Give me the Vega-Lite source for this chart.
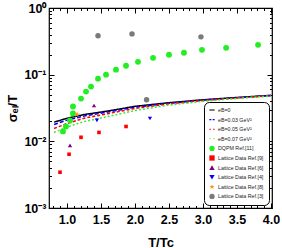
{
  "$schema": "https://vega.github.io/schema/vega-lite/v6.json",
  "width": 223,
  "height": 200,
  "autosize": "none",
  "padding": {"left": 49, "top": 8, "right": 10, "bottom": 40},
  "background": "white",
  "config": {
    "view": {"stroke": "black", "strokeWidth": 1.2},
    "font": "Liberation Sans",
    "axis": {"grid": false}
  },
  "datasets": {
    "lines": [
      {"series": "eB=0", "T": 0.81, "s": 0.0194},
      {"series": "eB=0", "T": 1.0, "s": 0.0222},
      {"series": "eB=0", "T": 1.25, "s": 0.0252},
      {"series": "eB=0", "T": 1.6, "s": 0.0285},
      {"series": "eB=0", "T": 2.0, "s": 0.0335},
      {"series": "eB=0", "T": 2.5, "s": 0.038},
      {"series": "eB=0", "T": 3.0, "s": 0.042},
      {"series": "eB=0", "T": 3.5, "s": 0.0455},
      {"series": "eB=0", "T": 4.0, "s": 0.049},
      {"series": "eB=0.03 GeV²", "T": 0.81, "s": 0.0179},
      {"series": "eB=0.03 GeV²", "T": 1.0, "s": 0.0208},
      {"series": "eB=0.03 GeV²", "T": 1.25, "s": 0.024},
      {"series": "eB=0.03 GeV²", "T": 1.6, "s": 0.0275},
      {"series": "eB=0.03 GeV²", "T": 2.0, "s": 0.0325},
      {"series": "eB=0.03 GeV²", "T": 2.5, "s": 0.0372},
      {"series": "eB=0.03 GeV²", "T": 3.0, "s": 0.0415},
      {"series": "eB=0.03 GeV²", "T": 3.5, "s": 0.045},
      {"series": "eB=0.03 GeV²", "T": 4.0, "s": 0.0486},
      {"series": "eB=0.05 GeV²", "T": 0.81, "s": 0.0156},
      {"series": "eB=0.05 GeV²", "T": 1.0, "s": 0.0185},
      {"series": "eB=0.05 GeV²", "T": 1.25, "s": 0.0222},
      {"series": "eB=0.05 GeV²", "T": 1.6, "s": 0.026},
      {"series": "eB=0.05 GeV²", "T": 2.0, "s": 0.0312},
      {"series": "eB=0.05 GeV²", "T": 2.5, "s": 0.0365},
      {"series": "eB=0.05 GeV²", "T": 3.0, "s": 0.041},
      {"series": "eB=0.05 GeV²", "T": 3.5, "s": 0.0447},
      {"series": "eB=0.05 GeV²", "T": 4.0, "s": 0.0483},
      {"series": "eB=0.07 GeV²", "T": 0.81, "s": 0.0136},
      {"series": "eB=0.07 GeV²", "T": 1.0, "s": 0.0163},
      {"series": "eB=0.07 GeV²", "T": 1.25, "s": 0.0198},
      {"series": "eB=0.07 GeV²", "T": 1.6, "s": 0.0235},
      {"series": "eB=0.07 GeV²", "T": 2.0, "s": 0.029},
      {"series": "eB=0.07 GeV²", "T": 2.5, "s": 0.035},
      {"series": "eB=0.07 GeV²", "T": 3.0, "s": 0.0398},
      {"series": "eB=0.07 GeV²", "T": 3.5, "s": 0.044},
      {"series": "eB=0.07 GeV²", "T": 4.0, "s": 0.048}
    ],
    "points": [
      {"series": "DQPM Ref.[11]", "T": 0.94, "s": 0.0141},
      {"series": "DQPM Ref.[11]", "T": 0.985, "s": 0.0167},
      {"series": "DQPM Ref.[11]", "T": 1.044, "s": 0.0206},
      {"series": "DQPM Ref.[11]", "T": 1.088, "s": 0.0262},
      {"series": "DQPM Ref.[11]", "T": 1.088, "s": 0.0333},
      {"series": "DQPM Ref.[11]", "T": 1.206, "s": 0.0438},
      {"series": "DQPM Ref.[11]", "T": 1.28, "s": 0.0557},
      {"series": "DQPM Ref.[11]", "T": 1.353, "s": 0.0662},
      {"series": "DQPM Ref.[11]", "T": 1.456, "s": 0.0871},
      {"series": "DQPM Ref.[11]", "T": 1.574, "s": 0.1},
      {"series": "DQPM Ref.[11]", "T": 1.72, "s": 0.119},
      {"series": "DQPM Ref.[11]", "T": 1.868, "s": 0.136},
      {"series": "DQPM Ref.[11]", "T": 2.044, "s": 0.156},
      {"series": "DQPM Ref.[11]", "T": 2.265, "s": 0.179},
      {"series": "DQPM Ref.[11]", "T": 2.5, "s": 0.199},
      {"series": "DQPM Ref.[11]", "T": 2.72, "s": 0.213},
      {"series": "DQPM Ref.[11]", "T": 2.985, "s": 0.236},
      {"series": "DQPM Ref.[11]", "T": 3.34, "s": 0.253},
      {"series": "DQPM Ref.[11]", "T": 3.81, "s": 0.28},
      {"series": "Lattice Data Ref.[9]", "T": 0.897, "s": 0.00344},
      {"series": "Lattice Data Ref.[9]", "T": 1.03, "s": 0.0064},
      {"series": "Lattice Data Ref.[9]", "T": 1.206, "s": 0.0115},
      {"series": "Lattice Data Ref.[9]", "T": 1.47, "s": 0.0136},
      {"series": "Lattice Data Ref.[9]", "T": 1.868, "s": 0.0167},
      {"series": "Lattice Data Ref.[6]", "T": 1.044, "s": 0.0087},
      {"series": "Lattice Data Ref.[6]", "T": 1.397, "s": 0.0345},
      {"series": "Lattice Data Ref.[4]", "T": 1.44, "s": 0.0206},
      {"series": "Lattice Data Ref.[4]", "T": 2.22, "s": 0.022},
      {"series": "Lattice Data Ref.[8]", "T": 1.147, "s": 0.0253},
      {"series": "Lattice Data Ref.[3]", "T": 1.456, "s": 0.382},
      {"series": "Lattice Data Ref.[3]", "T": 1.956, "s": 0.409},
      {"series": "Lattice Data Ref.[3]", "T": 2.97, "s": 0.369},
      {"series": "Lattice Data Ref.[3]", "T": 2.17, "s": 0.042}
    ]
  },
  "encoding": {
    "x": {
      "field": "T", "type": "quantitative", "axis": null,
      "scale": {"domain": [0.735, 4.015], "nice": false, "zero": false}
    },
    "y": {
      "field": "s", "type": "quantitative", "axis": null,
      "scale": {"type": "log", "domain": [0.001, 1], "nice": false}
    },
    "color": {
      "field": "series", "type": "nominal",
      "scale": {
        "domain": ["eB=0", "eB=0.03 GeV²", "eB=0.05 GeV²", "eB=0.07 GeV²", "DQPM Ref.[11]", "Lattice Data Ref.[9]", "Lattice Data Ref.[6]", "Lattice Data Ref.[4]", "Lattice Data Ref.[8]", "Lattice Data Ref.[3]"],
        "range": ["#000000", "#0000ff", "#ff0000", "#33ee33", "#22ee22", "#ff0000", "#800080", "#0000ff", "#ff8c1a", "#7a7a7a"]
      }
    }
  },
  "layer": [
    {
      "data": {"name": "lines"},
      "mark": {"type": "line", "strokeWidth": 1.5},
      "encoding": {
        "strokeDash": {
          "field": "series", "type": "nominal", "legend": null,
          "scale": {
            "domain": ["eB=0", "eB=0.03 GeV²", "eB=0.05 GeV²", "eB=0.07 GeV²"],
            "range": [[1, 0], [4, 2], [3, 2], [2, 2]]
          }
        }
      }
    },
    {
      "data": {"name": "points"},
      "mark": {"type": "point", "filled": true, "opacity": 1},
      "encoding": {
        "shape": {
          "field": "series", "type": "nominal",
          "scale": {
            "domain": ["eB=0", "eB=0.03 GeV²", "eB=0.05 GeV²", "eB=0.07 GeV²", "DQPM Ref.[11]", "Lattice Data Ref.[9]", "Lattice Data Ref.[6]", "Lattice Data Ref.[4]", "Lattice Data Ref.[8]", "Lattice Data Ref.[3]"],
            "range": [
              "M-1,-0.2L1,-0.2L1,0.2L-1,0.2Z",
              "M-1,-0.2h0.75v0.4h-0.75Z M0.25,-0.2h0.75v0.4h-0.75Z",
              "M-1,-0.2h0.6v0.4h-0.6Z M0.4,-0.2h0.6v0.4h-0.6Z",
              "M-1,-0.2h0.45v0.4h-0.45Z M0.55,-0.2h0.45v0.4h-0.45Z",
              "circle", "square", "triangle-up", "triangle-down",
              "M0,-1L0.235,-0.324L0.951,-0.309L0.38,0.124L0.588,0.809L0,0.4L-0.588,0.809L-0.38,0.124L-0.951,-0.309L-0.235,-0.324Z",
              "circle"
            ]
          },
          "legend": {
            "title": null,
            "orient": "bottom-right",
            "offset": 3,
            "padding": 5,
            "strokeColor": "black",
            "fillColor": "white",
            "cornerRadius": 5,
            "labelFontSize": 5.3,
            "labelFont": "Liberation Sans",
            "labelColor": "#222",
            "symbolSize": 28,
            "rowPadding": 2.6,
            "labelOffset": 3,
            "symbolStrokeWidth": 0
          }
        },
        "size": {
          "field": "series", "type": "nominal", "legend": null,
          "scale": {
            "type": "ordinal",
            "domain": ["DQPM Ref.[11]", "Lattice Data Ref.[9]", "Lattice Data Ref.[6]", "Lattice Data Ref.[4]", "Lattice Data Ref.[8]", "Lattice Data Ref.[3]"],
            "range": [34, 13, 18, 18, 34, 30]
          }
        }
      }
    },
    {
      "data": {"name": "points"},
      "mark": {"type": "point", "opacity": 0, "size": 0},
      "encoding": {
        "color": {"value": "transparent"},
        "x": {
          "field": "T", "type": "quantitative",
          "axis": {
            "orient": "bottom",
            "values": [0.8, 0.9, 1.0, 1.1, 1.2, 1.3, 1.4, 1.5, 1.6, 1.7, 1.8, 1.9, 2.0, 2.1, 2.2, 2.3, 2.4, 2.5, 2.6, 2.7, 2.8, 2.9, 3.0, 3.1, 3.2, 3.3, 3.4, 3.5, 3.6, 3.7, 3.8, 3.9, 4.0],
            "labelExpr": "abs(datum.value*2 - round(datum.value*2)) < 0.01 ? format(datum.value, '.1f') : ''",
            "tickSize": {"condition": {"test": "abs(datum.value*2 - round(datum.value*2)) < 0.01", "value": -5}, "value": -2.5},
            "tickColor": "black",
            "domain": false,
            "grid": false,
            "labelFontSize": 12.5,
            "labelFontWeight": "bold",
            "labelFont": "Liberation Sans",
            "labelColor": "black",
            "labelPadding": 10,
            "labelOverlap": false,
            "labelFlush": false,
            "title": "T/Tc",
            "titleFontSize": 13,
            "titleFontWeight": "bold",
            "titleFont": "Liberation Sans",
            "titlePadding": 8
          }
        },
        "y": {
          "field": "s", "type": "quantitative",
          "axis": {
            "orient": "left",
            "values": [0.001, 0.002, 0.003, 0.004, 0.005, 0.006, 0.007, 0.008, 0.009, 0.01, 0.02, 0.03, 0.04, 0.05, 0.06, 0.07, 0.08, 0.09, 0.1, 0.2, 0.3, 0.4, 0.5, 0.6, 0.7, 0.8, 0.9, 1],
            "labelExpr": "datum.value == 1 ? '10⁰' : datum.value == 0.1 ? '10⁻¹' : datum.value == 0.01 ? '10⁻²' : datum.value == 0.001 ? '10⁻³' : ''",
            "tickSize": {"condition": {"test": "indexof([0.001, 0.01, 0.1, 1], datum.value) >= 0", "value": -5}, "value": -2.5},
            "tickColor": "black",
            "domain": false,
            "grid": false,
            "labelFontSize": 12.5,
            "labelFontWeight": "bold",
            "labelFont": "Liberation Sans",
            "labelColor": "black",
            "labelPadding": 8,
            "labelOverlap": false,
            "labelFlush": false,
            "title": "σₑₗ/T",
            "titleFontSize": 13,
            "titleFontWeight": "bold",
            "titleFont": "Liberation Sans",
            "titlePadding": 4
          }
        }
      }
    },
    {
      "data": {"name": "points"},
      "mark": {"type": "point", "opacity": 0, "size": 0},
      "encoding": {
        "color": {"value": "transparent"},
        "x": {
          "field": "T", "type": "quantitative",
          "axis": {
            "orient": "top",
            "values": [0.8, 0.9, 1.0, 1.1, 1.2, 1.3, 1.4, 1.5, 1.6, 1.7, 1.8, 1.9, 2.0, 2.1, 2.2, 2.3, 2.4, 2.5, 2.6, 2.7, 2.8, 2.9, 3.0, 3.1, 3.2, 3.3, 3.4, 3.5, 3.6, 3.7, 3.8, 3.9, 4.0],
            "labels": false,
            "tickSize": {"condition": {"test": "abs(datum.value*2 - round(datum.value*2)) < 0.01", "value": -5}, "value": -2.5},
            "tickColor": "black",
            "domain": false,
            "grid": false,
            "title": null
          }
        },
        "y": {
          "field": "s", "type": "quantitative",
          "axis": {
            "orient": "right",
            "values": [0.001, 0.002, 0.003, 0.004, 0.005, 0.006, 0.007, 0.008, 0.009, 0.01, 0.02, 0.03, 0.04, 0.05, 0.06, 0.07, 0.08, 0.09, 0.1, 0.2, 0.3, 0.4, 0.5, 0.6, 0.7, 0.8, 0.9, 1],
            "labels": false,
            "tickSize": {"condition": {"test": "indexof([0.001, 0.01, 0.1, 1], datum.value) >= 0", "value": -5}, "value": -2.5},
            "tickColor": "black",
            "domain": false,
            "grid": false,
            "title": null
          }
        }
      }
    }
  ]
}
